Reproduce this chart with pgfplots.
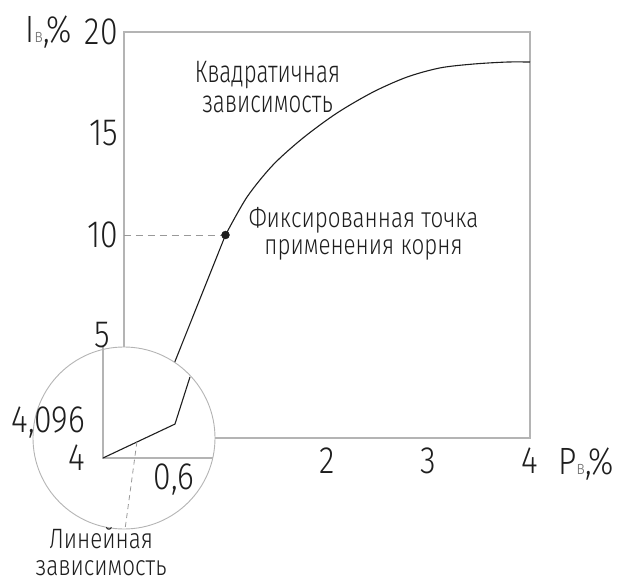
\documentclass[border=0pt]{standalone}
\usepackage{fontspec}
\usepackage{pgfplots}
\pgfplotsset{compat=1.18}
\setmainfont{Fira Sans}[UprightFont=* Light, FakeStretch=0.84]
\newfontfamily\txtfam{Fira Sans}[UprightFont=* Light, FakeStretch=0.72]
\newfontfamily\txtfamB{Fira Sans}[UprightFont=* Light, FakeStretch=0.8]

\definecolor{ink}{HTML}{1E1E1E}
\definecolor{axisgray}{HTML}{B4B4B4}
\definecolor{subgray}{HTML}{707070}

\newcommand\numfont{\fontsize{38bp}{38bp}\selectfont}
\newcommand\txtfont[1]{\txtfam\fontsize{31bp}{#1}\selectfont}
\newcommand\smtxtfont[1]{\txtfamB\fontsize{28bp}{#1}\selectfont}
\newcommand\subv{{\fontsize{19bp}{19bp}\selectfont\color{subgray}в}}

\begin{document}
\begin{tikzpicture}
\useasboundingbox (-124bp,-146bp) rectangle (501bp,438bp);

% main characteristic: output current versus pressure
\begin{axis}[
  at={(0,0)}, anchor=south west,
  scale only axis, width=406bp, height=406bp,
  xmin=0, xmax=4, ymin=0, ymax=20,
  axis line style={draw=axisgray, line width=1.1bp},
  xtick={2,3,4}, xticklabels={2,3,4},
  ytick={10,15,20}, yticklabels={10,15,20},
  major tick length=0pt,
  tick label style={font=\numfont, text=ink, inner sep=0pt},
  xticklabel style={anchor=north, yshift=-10bp},
  yticklabel style={anchor=east, xshift=-6bp},
  clip=false,
]
% linear part up to the fixed point
\addplot[ink, line width=1.1bp] coordinates {(0.4,2.49) (1.0,10.0)};
% square-root part
\addplot[ink, line width=1.1bp, smooth] coordinates {
  (1.0,10.0) (1.212,11.87) (1.468,13.45) (1.764,14.78) (2.099,16.01)
  (2.453,17.04) (2.788,17.78) (3.113,18.23) (3.438,18.42) (3.773,18.52) (4.0,18.52)};
\addplot[axisgray!85!black, line width=0.8bp, dash pattern=on 7bp off 5bp]
  coordinates {(0,10) (1.0,10)};
\addplot[only marks, mark=*, mark size=4bp, ink] coordinates {(1.0,10)};

\node[anchor=base, align=center, font=\txtfont{30bp}, text=ink, inner sep=0pt]
  at (axis cs:1.414,16.01) {Квадратичная\\зависимость};
\node[anchor=base, align=center, font=\smtxtfont{27bp}, text=ink, inner sep=0pt]
  at (axis cs:2.36,9.06) {Фиксированная точка\\применения корня};

\node[anchor=base east, font=\numfont, text=ink, inner sep=0pt] at (axis cs:-0.512,19.46) {I\subv,\%};
\node[anchor=base west, font=\numfont, text=ink, inner sep=0pt] at (axis cs:4.276,-1.82) {P\subv,\%};
\end{axis}

% magnifier around the origin
\fill[white] (0,0) circle[radius=91bp];
\draw[axisgray, line width=0.9bp] (0,0) circle[radius=91bp];

% enlarged initial (linear) section
\begin{axis}[
  at={(-21bp,-20bp)}, anchor=south west,
  scale only axis, width=110bp, height=111bp,
  xmin=0, xmax=0.917, ymin=4, ymax=4.314,
  hide axis, clip=false,
]
\draw[axisgray, line width=1.1bp] (axis cs:0,4.314) -- (axis cs:0,4) -- (axis cs:0.917,4);
\addplot[ink, line width=1.1bp] coordinates {(0,4) (0.6,4.096) (0.725,4.229)};
\addplot[axisgray!85!black, line width=0.8bp, dash pattern=on 5bp off 4bp]
  coordinates {(0.283,4.046) (0.183,3.797)};

\node[anchor=base east, font=\numfont, text=ink, inner sep=0pt, xshift=-18bp] at (axis cs:0,4.073) {4,096};
\node[anchor=base east, font=\numfont, text=ink, inner sep=0pt, xshift=-18bp] at (axis cs:0,3.966) {4};
\node[anchor=base, font=\numfont, text=ink, inner sep=0pt] at (axis cs:0.592,3.910) {0,6};
\node[anchor=base, font=\numfont, text=ink, inner sep=0pt] at (axis cs:-0.004,4.314) {5};

\node[anchor=base, align=center, font=\smtxtfont{27bp}, text=ink, inner sep=0pt]
  at (axis cs:-0.015,3.669) {Линейная\\зависимость};
\end{axis}
\end{tikzpicture}
\end{document}
